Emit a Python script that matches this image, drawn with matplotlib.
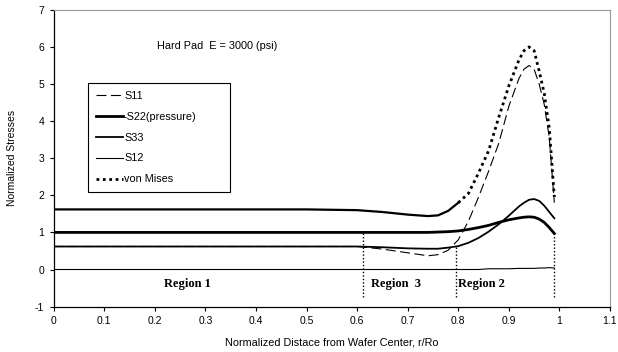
import numpy as np
import matplotlib.pyplot as plt

plt.rcParams['font.family'] = ['Liberation Sans', 'DejaVu Sans']
plt.rcParams['axes.unicode_minus'] = False

r = np.array([0, 0.1, 0.2, 0.3, 0.4, 0.5, 0.55, 0.6, 0.65, 0.7, 0.74, 0.76, 0.78, 0.8,
              0.82, 0.84, 0.86, 0.88, 0.9, 0.92, 0.93, 0.94, 0.95, 0.96, 0.97, 0.98, 0.99])

s11 = [0.62, 0.62, 0.62, 0.62, 0.62, 0.62, 0.62, 0.62, 0.55, 0.45, 0.37, 0.40, 0.52, 0.80,
       1.30, 1.95, 2.65, 3.40, 4.40, 5.15, 5.40, 5.50, 5.40, 5.00, 4.45, 3.55, 1.80]
s22 = [1.00, 1.00, 1.00, 1.00, 1.00, 1.00, 1.00, 1.00, 1.00, 1.00, 1.00, 1.01, 1.02, 1.04,
       1.08, 1.13, 1.19, 1.27, 1.34, 1.39, 1.41, 1.42, 1.41, 1.36, 1.27, 1.13, 0.97]
s33 = [0.62, 0.62, 0.62, 0.62, 0.62, 0.62, 0.62, 0.62, 0.60, 0.57, 0.56, 0.56, 0.59, 0.63,
       0.72, 0.85, 1.02, 1.22, 1.45, 1.70, 1.80, 1.88, 1.90, 1.85, 1.72, 1.55, 1.38]
s12 = [0.0, 0.0, 0.0, 0.0, 0.0, 0.0, 0.0, 0.0, 0.0, 0.0, 0.0, 0.0, 0.0, 0.0,
       0.0, 0.0, 0.02, 0.02, 0.02, 0.03, 0.03, 0.03, 0.03, 0.04, 0.04, 0.05, 0.04]
mises = [1.62, 1.62, 1.62, 1.62, 1.62, 1.62, 1.61, 1.60, 1.55, 1.48, 1.44, 1.46, 1.58, 1.80,
         2.05, 2.60, 3.20, 4.10, 4.95, 5.65, 5.90, 6.00, 5.90, 5.35, 4.75, 3.80, 1.95]

# region boundaries
bound_x = [0.612, 0.795, 0.99]
bound_top = [1.0, 0.62, 0.97]
regions = ['Region 1', 'Region  3', 'Region 2']
region_x = [0.265, 0.676, 0.845]

fig = plt.figure(figsize=(6.18, 3.52), dpi=100)
ax = fig.add_axes([0.087, 0.129, 0.9, 0.843])

s11_line, = ax.plot(r, s11, color='black', lw=0.8, dashes=(9, 4), label='S11')
s22_line, = ax.plot(r, s22, color='black', lw=2.0, label='-S22(pressure)')
s33_line, = ax.plot(r, s33, color='black', lw=1.3, label='S33')
s12_line, = ax.plot(r, s12, color='black', lw=0.8, label='S12')
flat = r <= 0.8
ax.plot(r[flat], np.array(mises)[flat], color='black', lw=1.6)
vm_line, = ax.plot(r[~flat | (r == 0.8)], np.array(mises)[~flat | (r == 0.8)],
                   color='black', lw=2.0, linestyle=(0, (1, 1.3)), label='von Mises')

for bx, bt in zip(bound_x, bound_top):
    ax.plot([bx, bx], [-0.75, bt], color='black', lw=1.0, linestyle=(0, (1, 1.5)))

for name, rx in zip(regions, region_x):
    ax.text(rx, -0.4, name, family='Liberation Serif', fontweight='bold',
            fontsize=9, ha='center', va='center')

ax.text(0.205, 6.03, 'Hard Pad  E = 3000 (psi)', fontsize=7.8, va='center')

leg = ax.legend(handles=[s11_line, s22_line, s33_line, s12_line, vm_line],
                loc='upper left', bbox_to_anchor=(0.061, 0.754, 0.256, 0.0),
                mode='expand', fontsize=7.8,
                fancybox=False, edgecolor='black', framealpha=1, handlelength=2.5,
                handletextpad=0.1, labelspacing=1.0, borderpad=0.75, borderaxespad=0)
leg.get_frame().set_linewidth(0.8)

ax.set_xlim(0, 1.1)
ax.set_ylim(-1, 7)
ax.set_xticks(np.arange(0, 1.11, 0.1))
ax.set_xticklabels(['0', '0.1', '0.2', '0.3', '0.4', '0.5', '0.6', '0.7', '0.8', '0.9', '1', '1.1'])
ax.set_yticks(range(-1, 8))
ax.tick_params(labelsize=7.5, direction='out', length=3, width=0.8, pad=4)
ax.spines['top'].set_color('#999999')
ax.spines['right'].set_color('#999999')
ax.spines['left'].set_linewidth(0.9)
ax.spines['bottom'].set_linewidth(0.9)

ax.set_xlabel('Normalized Distace from Wafer Center, r/Ro', fontsize=7.8, labelpad=8)
ax.set_ylabel('Normalized Stresses', fontsize=7.5, labelpad=13)

fig.savefig('out.png', dpi=100)
